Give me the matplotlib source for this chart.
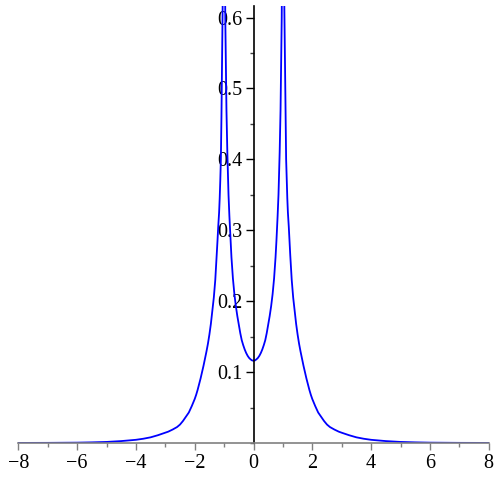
import matplotlib
matplotlib.use("Agg")
import matplotlib.pyplot as plt
from matplotlib.ticker import MultipleLocator, FuncFormatter

# right half of the curve; the picture is mirror
# symmetric about x = 0, so the left half reuses the same readings
x_right = [0.0, 0.05, 0.1, 0.15, 0.2, 0.25, 0.3, 0.35, 0.4, 0.45, 0.5, 0.55,
           0.6, 0.65, 0.7, 0.75, 0.78, 0.82, 0.85, 0.87, 0.89, 0.92, 0.94,
           0.96, 0.97, 0.99,
           1.01, 1.02, 1.04, 1.05, 1.07, 1.09, 1.11, 1.13, 1.15, 1.17, 1.2,
           1.225, 1.25, 1.3, 1.35, 1.4, 1.45, 1.5, 1.55, 1.6, 1.65, 1.7, 1.75,
           1.8, 1.85, 1.9, 1.95, 2.0, 2.1, 2.2, 2.3, 2.4, 2.5, 2.6, 2.75, 2.9,
           3.0, 3.25, 3.5, 3.75, 4.0, 4.5, 5.0, 5.5, 6.0, 7.0, 8.0]
y_right = [0.116, 0.1165, 0.118, 0.12, 0.123, 0.127, 0.132, 0.138, 0.145,
           0.155, 0.167, 0.179, 0.193, 0.21, 0.232, 0.262, 0.285, 0.32, 0.35,
           0.38, 0.41, 0.47, 0.53, 0.6, 0.68, 1.0,
           1.0, 0.8, 0.66, 0.61, 0.54, 0.46, 0.40, 0.37, 0.345, 0.325, 0.305,
           0.285, 0.265, 0.23, 0.205, 0.186, 0.168, 0.153, 0.14, 0.129, 0.119,
           0.109, 0.10, 0.091, 0.083, 0.075, 0.068, 0.062, 0.052, 0.043, 0.037,
           0.031, 0.026, 0.0225, 0.019, 0.016, 0.0145, 0.011, 0.008, 0.006,
           0.0045, 0.0027, 0.0015, 0.0009, 0.0005, 0.0002, 0.0001]

x_vals = [-v for v in reversed(x_right[1:])] + x_right
y_vals = list(reversed(y_right[1:])) + y_right

x_ticks = [-8, -6, -4, -2, 0, 2, 4, 6, 8]
y_ticks = [0.1, 0.2, 0.3, 0.4, 0.5, 0.6]

plt.rcParams['font.family'] = ['Liberation Serif', 'DejaVu Serif']

fig = plt.figure(figsize=(5, 5), dpi=100)
ax = fig.add_axes([0.0366, 0.114, 0.9408, 0.875])

ax.plot(x_vals, y_vals, color='#0000ff', linewidth=1.3, solid_joinstyle='round')

ax.set_xlim(-8, 8)
ax.set_ylim(0, 0.617)

# Maple style axes crossing at the origin
ax.spines['left'].set_position(('data', 0))
ax.spines['right'].set_visible(False)
ax.spines['top'].set_visible(False)
ax.spines['left'].set_color('black')
ax.spines['bottom'].set_color('#808080')
ax.spines['left'].set_linewidth(1.2)
ax.spines['bottom'].set_linewidth(1.2)

ax.set_xticks(x_ticks)
ax.xaxis.set_minor_locator(MultipleLocator(1))
ax.set_yticks(y_ticks)
ax.yaxis.set_minor_locator(MultipleLocator(0.05))

ax.xaxis.set_major_formatter(FuncFormatter(lambda v, p: f"{v:.0f}".replace('-', '\u2212')))
ax.yaxis.set_major_formatter(FuncFormatter(lambda v, p: f"{v:.1f}"))

ax.tick_params(axis='x', which='major', length=5, width=1, color='#808080',
               labelsize=14.5, pad=3)
ax.tick_params(axis='x', which='minor', length=3, width=1, color='#808080')
ax.tick_params(axis='y', which='major', length=6, width=1, color='black',
               labelsize=14.5, pad=2)
ax.tick_params(axis='y', which='minor', length=3, width=1, color='#404040')

fig.savefig('out.png', dpi=100)
